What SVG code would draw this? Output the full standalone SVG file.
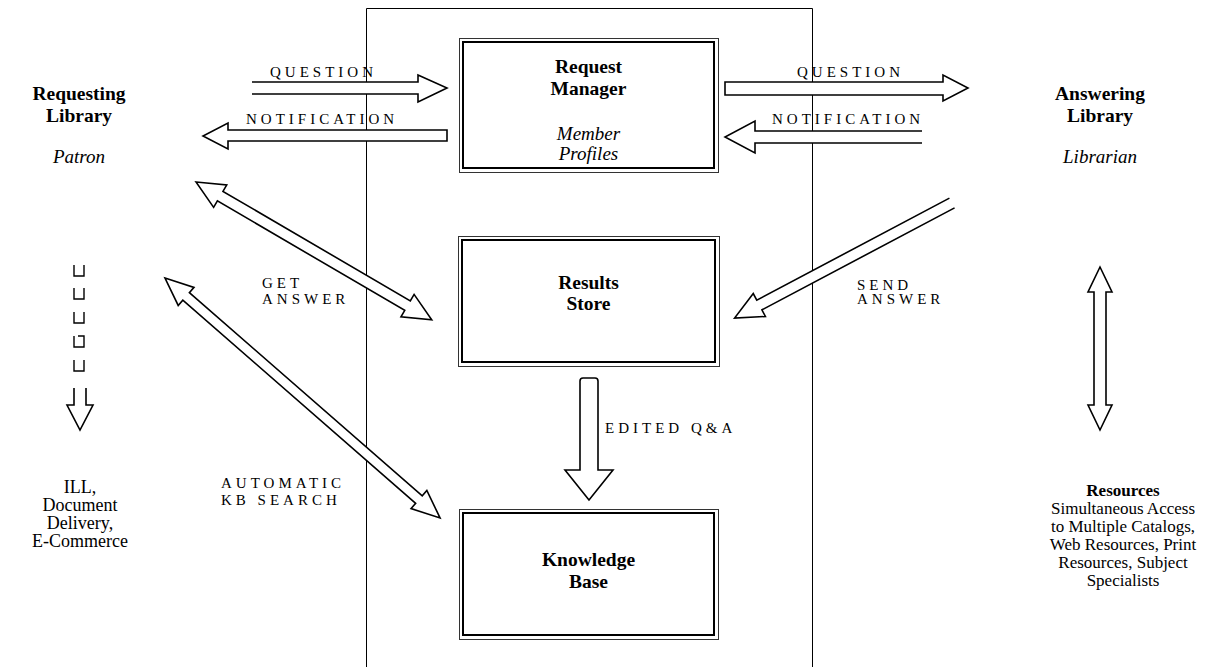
<svg xmlns="http://www.w3.org/2000/svg" width="1211" height="667" viewBox="0 0 1211 667">
<style>
.bg{fill:#fff}
.box-o{fill:none;stroke:#333;stroke-width:1}
.box-i{fill:#fff;stroke:#000;stroke-width:2}
.frame{fill:none;stroke:#000;stroke-width:1}
.arr{fill:#fff;stroke:#000;stroke-width:1.6;stroke-linejoin:miter}
.t{font-family:"Liberation Serif","Times New Roman",serif;fill:#000;text-anchor:middle}
.b{font-weight:bold;font-size:19.5px}
.i{font-style:italic;font-size:19px}
.r{font-size:17px}
.r18{font-size:18px}
.lab{font-family:"Liberation Serif","Times New Roman",serif;font-size:15px;letter-spacing:4px;fill:#000}
</style>
<rect class="bg" width="1211" height="667"/>

<g id="frame"><path class="frame" d="M366.5,667 V8.5 H812.5 V667"/></g>

<g id="request-manager">
<rect class="box-o" x="459.5" y="38.5" width="259" height="134"/>
<rect class="box-i" x="463" y="42" width="251" height="126"/>
<text class="t b" x="588.5" y="73">Request</text>
<text class="t b" x="588.5" y="95">Manager</text>
<text class="t i" x="588.5" y="140">Member</text>
<text class="t i" x="588.5" y="160">Profiles</text>
</g>

<g id="results-store">
<rect class="box-o" x="458.5" y="236.5" width="261" height="130"/>
<rect class="box-i" x="462" y="240" width="253" height="122"/>
<text class="t b" x="588.5" y="289">Results</text>
<text class="t b" x="588.5" y="310">Store</text>
</g>

<g id="knowledge-base">
<rect class="box-o" x="459.5" y="509.5" width="259" height="130"/>
<rect class="box-i" x="463" y="513" width="251" height="122"/>
<text class="t b" x="588.5" y="566">Knowledge</text>
<text class="t b" x="588.5" y="588">Base</text>
</g>

<g id="requesting-library">
<text class="t b" x="79" y="100">Requesting</text>
<text class="t b" x="79" y="122">Library</text>
<text class="t i" x="79" y="163">Patron</text>
</g>

<g id="answering-library">
<text class="t b" x="1100" y="100">Answering</text>
<text class="t b" x="1100" y="122">Library</text>
<text class="t i" x="1100" y="163">Librarian</text>
</g>

<g id="ill">
<text class="t r18" x="80" y="493">ILL,</text>
<text class="t r18" x="80" y="511">Document</text>
<text class="t r18" x="80" y="529">Delivery,</text>
<text class="t r18" x="80" y="547">E-Commerce</text>
</g>

<g id="resources">
<text class="t b" x="1123" y="496" style="font-size:17px">Resources</text>
<text class="t r" x="1123" y="514">Simultaneous Access</text>
<text class="t r" x="1123" y="532">to Multiple Catalogs,</text>
<text class="t r" x="1123" y="550">Web Resources, Print</text>
<text class="t r" x="1123" y="568">Resources, Subject</text>
<text class="t r" x="1123" y="586">Specialists</text>
</g>

<g id="connectors">
<!-- QUESTION left -->
<path class="arr" d="M252,82 H418 V75 L447,88 L418,102 V94 H252"/>
<text class="lab" x="270" y="77">QUESTION</text>
<!-- NOTIFICATION left -->
<path class="arr" d="M447,130 H228 V123 L203,136 L228,149 V141 H447 Z"/>
<text class="lab" x="246" y="124">NOTIFICATION</text>
<!-- QUESTION right -->
<path class="arr" d="M725,82 H943 V75 L968,88 L943,101 V95 H725 Z"/>
<text class="lab" x="797" y="77">QUESTION</text>
<!-- NOTIFICATION right -->
<path class="arr" d="M922,131 H755 V121 L725,137 L755,153 V143 H922"/>
<text class="lab" x="772" y="124">NOTIFICATION</text>

<!-- GET ANSWER double arrow -->
<path class="arr" transform="translate(196,182) rotate(30.3)" d="M0,0 L28,-13 L28,-5.5 L245,-5.5 L245,-13 L273,0 L245,13 L245,5.5 L28,5.5 L28,13 Z"/>
<text class="lab" x="262" y="288">GET</text>
<text class="lab" x="262" y="304">ANSWER</text>

<!-- AUTOMATIC KB SEARCH double arrow -->
<path class="arr" transform="translate(165,278) rotate(41.1)" d="M0,0 L28,-12 L28,-5 L337,-5 L337,-12 L365,0 L337,12 L337,5 L28,5 L28,12 Z"/>
<text class="lab" x="221" y="488">AUTOMATIC</text>
<text class="lab" x="221" y="505">KB SEARCH</text>

<!-- SEND ANSWER -->
<path class="arr" transform="translate(952,203) rotate(152.1)" d="M0,-5.5 L218,-5.5 L218,-13 L246,0 L218,13 L218,5.5 L0,5.5"/>
<text class="lab" x="857" y="290">SEND</text>
<text class="lab" x="857" y="304">ANSWER</text>

<!-- EDITED Q&A -->
<path class="arr" d="M580,470 V381 Q580,378 583,378 H595 Q598,378 598,381 V470 H613 L589,500 L565,470 Z"/>
<text class="lab" x="605" y="433">EDITED Q&amp;A</text>

<!-- Resources double arrow -->
<path class="arr" d="M1100,267 L1112,292 H1106 V405 H1112 L1100,430 L1088,405 H1094 V292 H1088 Z"/>

<!-- ILL dashed arrow -->
<g fill="none" stroke="#000" stroke-width="1.4">
<path d="M74,265 V276 H84 V265"/>
<path d="M74,288 V299 H84 V288"/>
<path d="M74,312 V323 H84 V312"/>
<path d="M74,336 V347 H84 V336 H78"/>
<path d="M74,360 V371 H84 V360"/>
</g>
<path class="arr" d="M74,388 V405 H67 L80,430 L93,405 H86 V388"/>
</g>
</svg>
